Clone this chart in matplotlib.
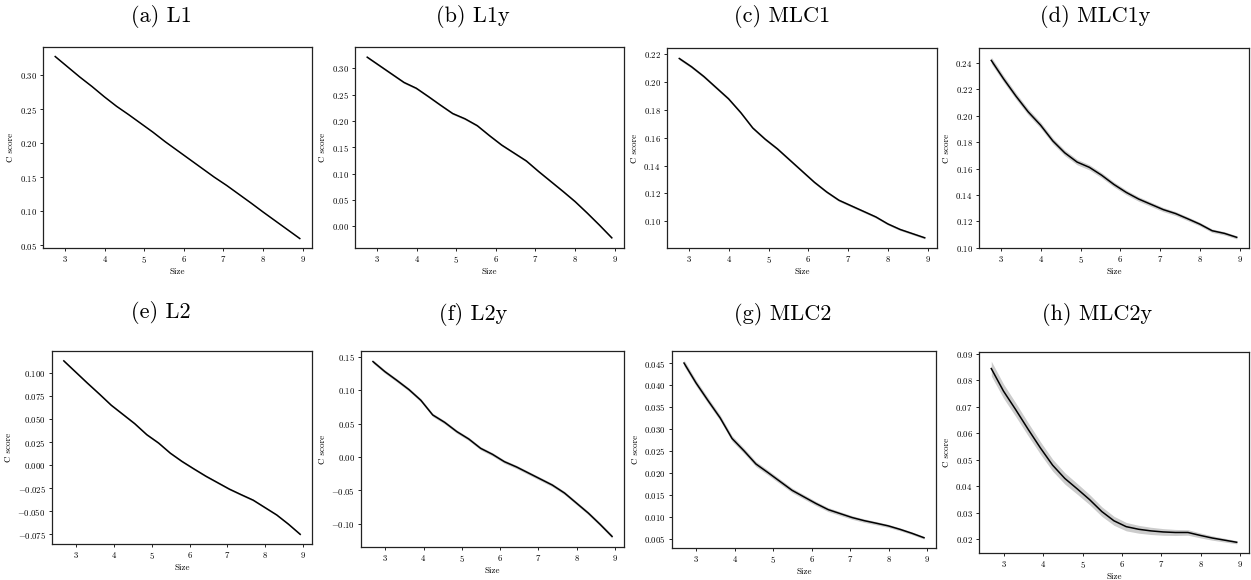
import matplotlib
matplotlib.use("Agg")
import matplotlib.pyplot as plt

plt.rcParams['font.family'] = ['cmr10', 'DejaVu Serif']
plt.rcParams['mathtext.fontset'] = 'cm'
plt.rcParams['axes.formatter.use_mathtext'] = True

# ---------------- data ----------------
size_top = [2.75, 3.06, 3.37, 3.68, 3.99, 4.30, 4.60, 4.91, 5.22, 5.53, 5.84,
            6.15, 6.46, 6.77, 7.08, 7.39, 7.70, 8.00, 8.31, 8.62, 8.93]
size_bot = [2.68, 2.99, 3.30, 3.62, 3.93, 4.24, 4.55, 4.87, 5.18, 5.49, 5.80,
            6.11, 6.43, 6.74, 7.05, 7.36, 7.68, 7.99, 8.30, 8.61, 8.92]

L1 = [0.327, 0.312, 0.297, 0.283, 0.268, 0.254, 0.242, 0.229, 0.216, 0.202, 0.189,
      0.176, 0.163, 0.150, 0.138, 0.125, 0.112, 0.099, 0.086, 0.073, 0.060]
L1y = [0.321, 0.305, 0.289, 0.273, 0.262, 0.246, 0.230, 0.214, 0.204, 0.191, 0.172,
       0.154, 0.139, 0.124, 0.104, 0.085, 0.066, 0.047, 0.025, 0.002, -0.022]
MLC1 = [0.217, 0.211, 0.204, 0.196, 0.188, 0.178, 0.167, 0.159, 0.152, 0.144, 0.136,
        0.128, 0.121, 0.115, 0.111, 0.107, 0.103, 0.098, 0.094, 0.091, 0.088]
MLC1y = [0.242, 0.228, 0.215, 0.203, 0.193, 0.181, 0.172, 0.165, 0.161, 0.155, 0.148,
         0.142, 0.137, 0.133, 0.129, 0.126, 0.122, 0.118, 0.113, 0.111, 0.108]
L2 = [0.113, 0.101, 0.089, 0.077, 0.065, 0.055, 0.045, 0.033, 0.024, 0.013, 0.004,
      -0.004, -0.012, -0.019, -0.026, -0.032, -0.038, -0.046, -0.054, -0.064, -0.075]
L2y = [0.143, 0.128, 0.115, 0.101, 0.085, 0.063, 0.052, 0.038, 0.027, 0.013, 0.004,
       -0.007, -0.015, -0.024, -0.033, -0.042, -0.054, -0.069, -0.084, -0.101, -0.119]
MLC2 = [0.0450, 0.0405, 0.0365, 0.0325, 0.0278, 0.0250, 0.0220, 0.0200, 0.0180, 0.0160, 0.0145,
        0.0130, 0.0116, 0.0107, 0.0098, 0.0091, 0.0085, 0.0079, 0.0071, 0.0062, 0.0052]
MLC2y = [0.0845, 0.0760, 0.0690, 0.0615, 0.0545, 0.0480, 0.0430, 0.0390, 0.0350, 0.0305, 0.0270,
         0.0248, 0.0238, 0.0232, 0.0228, 0.0226, 0.0226, 0.0215, 0.0205, 0.0197, 0.0189]

# half-width of the grey confidence band (first value, last value)
band_start = [0.0006, 0.002, 0.0010, 0.0025, 0.0012, 0.0025, 0.0007, 0.0028]
band_end = [0.0005, 0.002, 0.0008, 0.0012, 0.0010, 0.0025, 0.0003, 0.0006]

titles = ["(a) L1", "(b) L1y", "(c) MLC1", "(d) MLC1y",
          "(e) L2", "(f) L2y", "(g) MLC2", "(h) MLC2y"]
series = [L1, L1y, MLC1, MLC1y, L2, L2y, MLC2, MLC2y]

# ---------------- layout ----------------
W, H = 1251, 580
fig = plt.figure(figsize=(W / 100, H / 100), dpi=100)

# pixel boxes: left, right, top, bottom
boxes = [(43, 312, 47, 248), (355, 624, 47, 248), (667, 937, 48, 248), (979, 1249, 48, 248),
         (52, 312, 351, 544), (361, 624, 351, 547), (672, 936, 351, 548), (979, 1249, 352, 553)]
title_pos = [(161, 17), (473, 17), (782, 17), (1095, 17),
             (161, 313), (473, 314), (783, 314), (1097, 314)]

for i in range(8):
    l, r, t, b = boxes[i]
    ax = fig.add_axes([l / W, (H - b) / H, (r - l) / W, (b - t) / H])
    xs = size_top if i < 4 else size_bot
    ys = series[i]
    n = len(ys)
    bw = [band_start[i] + (band_end[i] - band_start[i]) * k / (n - 1) for k in range(n)]
    lo = [v - w for v, w in zip(ys, bw)]
    hi = [v + w for v, w in zip(ys, bw)]
    ax.fill_between(xs, lo, hi, color='black', alpha=0.2, linewidth=0)
    ax.plot(xs, ys, color='black', linewidth=1.1)
    ax.set_xticks([3, 4, 5, 6, 7, 8, 9])
    ax.tick_params(labelsize=6.3, length=2.5, width=0.6, pad=2)
    ax.set_xlabel("Size", fontsize=6.5, labelpad=2)
    ax.set_ylabel("C score", fontsize=6.5, labelpad=3)
    for s in ax.spines.values():
        s.set_linewidth(0.9)
        s.set_color('#222222')
    tx, ty = title_pos[i]
    fig.text(tx / W, 1 - ty / H, titles[i], ha='center', va='center', fontsize=16)

fig.savefig("out.png", dpi=100)
